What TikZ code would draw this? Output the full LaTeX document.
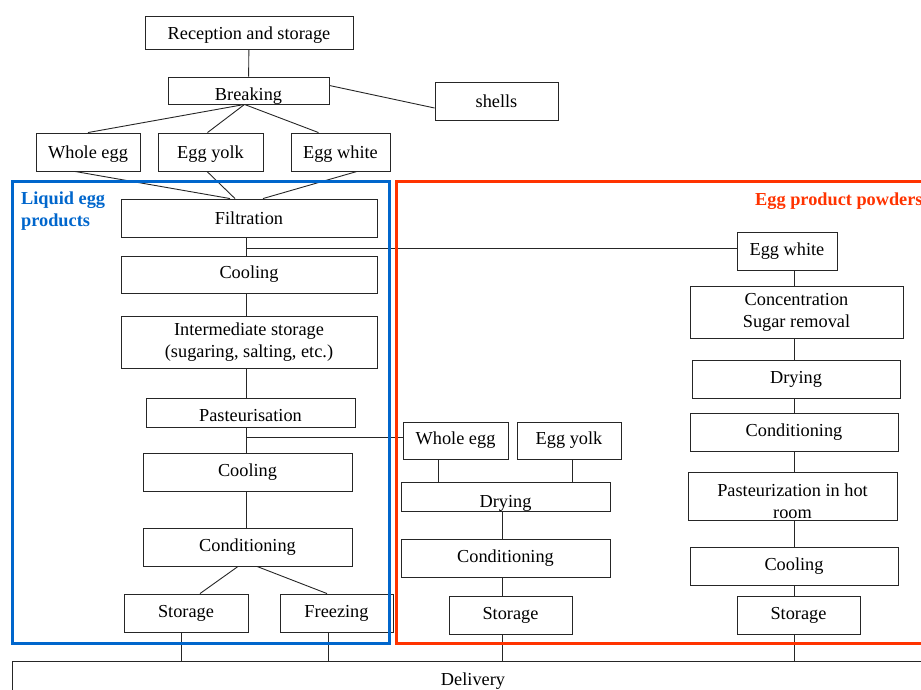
\documentclass[tikz,border=0pt]{standalone}
\usepackage{fontspec}
\setmainfont{Liberation Serif}
\definecolor{liquidblue}{RGB}{0,102,204}
\definecolor{powderred}{RGB}{255,51,0}
\tikzset{
  stage/.style={draw=black!85,line width=.9pt,inner sep=1pt,align=center,
    font=\fontsize{18.3}{22}\selectfont},
  boxsize/.style 2 args={minimum width=#1pt,minimum height=#2pt},
  sink/.style={text depth=0pt,text height=#1pt},
  flow/.style={draw=black!85,line width=.9pt},
  frame/.style={line width=3pt},
  tag/.style={font=\fontsize{18.3}{22}\selectfont\bfseries,align=left,inner sep=0pt}
}
\begin{document}
\begin{tikzpicture}[x=1pt,y=-1pt,line cap=butt]
  \useasboundingbox (0,0) rectangle (921,689);
  \clip (0,0) rectangle (921,689);
  % Common head of the line.
  \node[stage,boxsize={208}{33},sink=14] (rec) at (249,32.5) {Reception and storage};
  \node[stage,boxsize={161}{27},sink=19] (brk) at (248.5,90.5) {Breaking};
  \node[stage,boxsize={123}{38}] (shells) at (496.5,101) {shells};
  \node[stage,boxsize={104}{38},sink=13] (whole) at (88,152) {Whole egg};
  \node[stage,boxsize={105}{38},sink=13] (yolk) at (210.5,152) {Egg yolk};
  \node[stage,boxsize={99}{38},sink=13] (white) at (340.5,152) {Egg white};
  % Liquid egg products.
  \node[stage,boxsize={256}{38}] (filt) at (249,218) {Filtration};
  \node[stage,boxsize={256}{37}] (cool1) at (249,274.5) {Cooling};
  \node[stage,boxsize={256}{52}] (inter) at (249,342)
    {Intermediate storage\\(sugaring, salting, etc.)};
  \node[stage,boxsize={209}{29},sink=18.5] (past) at (250.5,412.5) {Pasteurisation};
  \node[stage,boxsize={209}{38}] (cool2) at (247.5,472) {Cooling};
  \node[stage,boxsize={209}{38}] (cond1) at (247.5,547) {Conditioning};
  \node[stage,boxsize={124}{38}] (stor1) at (186,613) {Storage};
  \node[stage,boxsize={113}{38}] (freez) at (336.5,613) {Freezing};
  % Egg product powders: whole egg and yolk.
  \node[stage,boxsize={105}{37}] (wholeP) at (455.5,440.5) {Whole egg};
  \node[stage,boxsize={104}{37}] (yolkP) at (569,440.5) {Egg yolk};
  \node[stage,boxsize={209}{29},sink=21] (dry1) at (505.5,496.5) {Drying};
  \node[stage,boxsize={209}{38}] (cond2) at (505.5,558) {Conditioning};
  \node[stage,boxsize={123}{38}] (stor2) at (510.5,615) {Storage};
  % Egg product powders: egg white.
  \node[stage,boxsize={100}{38}] (whiteP) at (787,251) {Egg white};
  \node[stage,boxsize={213}{52}] (conc) at (796.5,312) {Concentration\\Sugar removal};
  \node[stage,boxsize={208}{38}] (dry2) at (796,379) {Drying};
  \node[stage,boxsize={208}{38}] (cond3) at (794,432) {Conditioning};
  \node[stage,boxsize={209}{48},sink=45] (pastH) at (792.5,496) {Pasteurization in hot\\room};
  \node[stage,boxsize={208}{38}] (cool3) at (794,566) {Cooling};
  \node[stage,boxsize={123}{38}] (stor3) at (798.5,615) {Storage};
  \node[stage,boxsize={922}{34},sink=14] (deliv) at (473,678) {Delivery};
  % Column guides for the vertical connectors.
  \coordinate (colA) at (246,0);
  \coordinate (colB) at (502,0);
  \coordinate (colC) at (794,0);
  \coordinate (brkfoot) at ([xshift=-4pt]brk.south);
  \coordinate (wsplit) at (246,248);
  \coordinate (psplit) at (246,437);
  % Connectors.
  \draw[flow] (rec) -- (brk);
  \draw[flow] ([yshift=5pt]brk.east) -- ([yshift=-7pt]shells.west);
  \foreach \n/\dx in {whole/0,yolk/-3,white/-22} {
    \draw[flow] (brkfoot) -- ([xshift=\dx pt]\n.north);
  }
  \foreach \n/\a/\b in {whole/-13/-19,yolk/-3.5/-14,white/16.5/14} {
    \draw[flow] ([xshift=\a pt]\n.south) -- ([xshift=\b pt]filt.north);
  }
  \foreach \a/\b in {filt/cool1,cool1/inter,inter/past,past/cool2,cool2/cond1} {
    \draw[flow] (colA |- \a.south) -- (colA |- \b.north);
  }
  \draw[flow] (wsplit) -- (wsplit -| whiteP.west);
  \draw[flow] (psplit) -- (psplit -| wholeP.west);
  \draw[flow] ([xshift=-9.5pt]cond1.south) -- ([xshift=14pt]stor1.north);
  \draw[flow] ([xshift=9.5pt]cond1.south) -- ([xshift=-9.5pt]freez.north);
  \draw[flow] ([xshift=-17.5pt]wholeP.south) -- ([xshift=-17.5pt]wholeP.south |- dry1.north);
  \draw[flow] ([xshift=3pt]yolkP.south) -- ([xshift=3pt]yolkP.south |- dry1.north);
  \foreach \a/\b in {dry1/cond2,cond2/stor2} {
    \draw[flow] (colB |- \a.south) -- (colB |- \b.north);
  }
  \foreach \a/\b in {whiteP/conc,conc/dry2,dry2/cond3,cond3/pastH,pastH/cool3,cool3/stor3} {
    \draw[flow] (colC |- \a.south) -- (colC |- \b.north);
  }
  \foreach \n/\dx in {stor1/-5,freez/-8.5,stor2/-8.5,stor3/-4.5} {
    \draw[flow] ([xshift=\dx pt]\n.south) -- ([xshift=\dx pt]\n.south |- deliv.north);
  }
  % The two product families.
  \draw[frame,liquidblue] (12,181) rectangle (389,643);
  \draw[frame,powderred] (396,181) rectangle (940,643);
  \node[tag,text=liquidblue,anchor=north west] (liqtag) at (21,192) {Liquid egg\\products};
  \node[tag,text=powderred,anchor=north west] (powtag) at (755,193) {Egg product powders};
\end{tikzpicture}
\end{document}
